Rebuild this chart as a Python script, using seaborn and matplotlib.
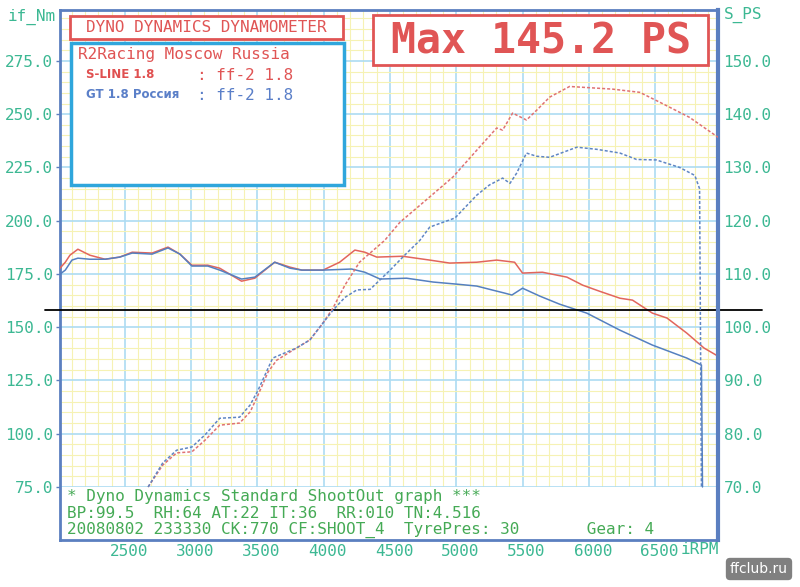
import matplotlib
matplotlib.use("Agg")
import matplotlib.pyplot as plt
import seaborn as sns
import pandas as pd
from matplotlib.patches import Rectangle
from matplotlib.ticker import MultipleLocator, FixedLocator
from matplotlib.transforms import ScaledTranslation

# ---------------- data ----------------
rpm_tq_red = [2010, 2050, 2085, 2145, 2235, 2350, 2460, 2555, 2705, 2765, 2825, 2915, 3005, 3125, 3215,
              3380, 3480, 3630, 3745, 3835, 3995, 4120, 4235, 4310, 4400, 4595, 4800, 4950, 5155, 5305,
              5440, 5500, 5650, 5835, 5955, 6080, 6235, 6330, 6480, 6590, 6740, 6870, 6975]
tq_red = [177.7, 180.5, 183.8, 186.6, 183.8, 181.9, 182.9, 185.2, 184.8, 186.2, 187.6, 184.3, 179.1, 179.1, 177.7,
          171.6, 173.0, 180.5, 178.2, 176.8, 176.8, 180.5, 186.2, 185.2, 182.9, 183.3, 181.5, 180.1, 180.5, 181.5,
          180.5, 175.4, 175.8, 173.5, 169.7, 166.9, 163.6, 162.7, 156.6, 154.3, 147.2, 140.2, 136.4]

rpm_tq_blue = [2010, 2050, 2100, 2145, 2235, 2350, 2460, 2555, 2705, 2825, 2915, 3005, 3125, 3215, 3380,
               3480, 3630, 3745, 3835, 3995, 4210, 4310, 4425, 4625, 4825, 5005, 5155, 5275, 5365, 5420,
               5500, 5630, 5780, 5985, 6235, 6480, 6740, 6850, 6858]
tq_blue = [174.9, 176.8, 181.5, 182.4, 181.9, 181.9, 182.9, 184.8, 184.3, 187.2, 184.3, 178.7, 178.7, 176.8, 172.6,
           173.5, 180.5, 177.7, 176.8, 176.8, 177.3, 175.8, 172.6, 173.0, 171.2, 170.2, 169.3, 167.4, 166.0, 165.1,
           168.3, 164.6, 160.8, 156.6, 148.6, 141.6, 135.5, 132.2, 75.0]

rpm_pw_red = [2675, 2785, 2890, 3005, 3105, 3215, 3365, 3445, 3505, 3580, 3645, 3795, 3895, 3995, 4070,
              4160, 4270, 4460, 4575, 4745, 4975, 5175, 5305, 5350, 5425, 5530, 5605, 5705, 5855, 5985,
              6180, 6385, 6555, 6760, 6985]
pw_red = [70.0, 74.1, 76.4, 76.6, 78.8, 81.6, 82.0, 84.1, 87.3, 91.6, 93.8, 96.1, 97.6, 100.8, 103.6,
          107.9, 112.2, 116.3, 119.7, 123.3, 128.2, 133.8, 137.4, 137.0, 140.2, 138.9, 140.7, 143.2, 145.2, 145.0,
          144.7, 144.1, 142.0, 139.4, 135.5]

rpm_pw_blue = [2675, 2785, 2890, 3005, 3105, 3215, 3365, 3445, 3505, 3615, 3795, 3895, 3995, 4070, 4160,
               4250, 4350, 4500, 4610, 4725, 4800, 4990, 5155, 5250, 5350, 5405, 5455, 5530, 5605, 5705,
               5910, 6060, 6235, 6360, 6510, 6685, 6800, 6836, 6850]
pw_blue = [70.0, 74.5, 76.9, 77.5, 79.8, 82.9, 83.1, 85.4, 88.2, 94.2, 96.1, 97.6, 100.8, 103.2, 105.6,
           107.0, 107.1, 110.7, 113.5, 116.3, 118.8, 120.5, 124.8, 126.7, 128.0, 127.0, 128.9, 132.7, 132.1, 131.9,
           133.8, 133.4, 132.7, 131.5, 131.4, 130.0, 128.5, 126.0, 70.0]

rpm_ticks = [2500, 3000, 3500, 4000, 4500, 5000, 5500, 6000, 6500]
nm_ticks = [75, 100, 125, 150, 175, 200, 225, 250, 275]
ps_ticks = [70, 80, 90, 100, 110, 120, 130, 140, 150]
cursor_nm = 158.0

df_tq_red = pd.DataFrame({"rpm": rpm_tq_red, "val": tq_red})
df_tq_blue = pd.DataFrame({"rpm": rpm_tq_blue, "val": tq_blue})
df_pw_red = pd.DataFrame({"rpm": rpm_pw_red, "val": pw_red})
df_pw_blue = pd.DataFrame({"rpm": rpm_pw_blue, "val": pw_blue})

# ---------------- style ----------------
sns.set_theme(style="white")
plt.rcParams['font.family'] = ['DejaVu Sans Mono', 'DejaVu Sans']

RED = "#e2655c"
RED_PW = "#e07272"
BLUE = "#5580c0"
BLUE_PW = "#5f86c4"
FRAME = "#5b7fc0"
TICKC = "#3cb893"
INFOC = "#45aa55"
W, H = 800, 587

def fx(x):
    return x / W

def fy(y):
    return 1 - y / H

fig = plt.figure(figsize=(8, 5.87), dpi=100)
fig.patch.set_facecolor("white")
ax = fig.add_axes([fx(60), fy(540), 658 / W, 530 / H])
ax.set_facecolor("white")
ax2 = ax.twinx()

nm_lo, nm_hi = 50.1, 298.9
ax.set_xlim(2010, 6975)
ax.set_ylim(nm_lo, nm_hi)
ax2.set_ylim(0.4 * nm_lo + 40, 0.4 * nm_hi + 40)

# grid
ax.set_axisbelow(True)
ax.xaxis.set_major_locator(FixedLocator(rpm_ticks))
ax.xaxis.set_minor_locator(MultipleLocator(100))
ax.yaxis.set_major_locator(FixedLocator(nm_ticks))
ax.yaxis.set_minor_locator(MultipleLocator(5))
ax.grid(which="minor", color="#f6f2b4", lw=0.8)
ax.grid(which="major", color="#addcf2", lw=1.2)
ax.axhspan(nm_lo, 75, color="white", zorder=1, lw=0)

# curves
sns.lineplot(data=df_tq_red, x="rpm", y="val", ax=ax, color=RED, lw=1.1, sort=False, estimator=None, legend=False, zorder=3)
sns.lineplot(data=df_tq_blue, x="rpm", y="val", ax=ax, color=BLUE, lw=1.1, sort=False, estimator=None, legend=False, zorder=3)
sns.lineplot(data=df_pw_red, x="rpm", y="val", ax=ax2, color=RED_PW, lw=1.1, sort=False, estimator=None, legend=False,
             linestyle=(0, (2, 1.3)), zorder=3)
sns.lineplot(data=df_pw_blue, x="rpm", y="val", ax=ax2, color=BLUE_PW, lw=1.1, sort=False, estimator=None, legend=False,
             linestyle=(0, (2, 1.3)), zorder=3)

# cursor line
ax.axhline(cursor_nm, xmin=(45 - 60) / 658, xmax=(762 - 60) / 658, color="black", lw=1.3, clip_on=False, zorder=4)

# axes labels / ticks
ax.set_xlabel("")
ax.set_ylabel("")
ax2.set_ylabel("")
ax.set_xticklabels([str(v) for v in rpm_ticks])
ax.set_yticklabels([f"{v:.1f}" for v in nm_ticks])
ax2.yaxis.set_major_locator(FixedLocator(ps_ticks))
ax2.set_yticklabels([f"{v:.1f}" for v in ps_ticks])
ax.tick_params(axis="both", which="minor", length=0)
ax.tick_params(axis="x", which="major", length=0, pad=3, labelsize=11.5, labelcolor=TICKC)
ax.tick_params(axis="y", which="major", length=3, width=1, color=FRAME, pad=2, labelsize=11.5, labelcolor=TICKC)
ax2.tick_params(axis="y", which="major", length=0, pad=4, labelsize=11.5, labelcolor=TICKC)
for lbl in ax.get_xticklabels():
    lbl.set_transform(lbl.get_transform() + ScaledTranslation(4 / 100, 0, fig.dpi_scale_trans))

for s in ax.spines.values():
    s.set_color(FRAME)
    s.set_linewidth(2)
for k, s in ax2.spines.items():
    if k == "right":
        s.set_color(FRAME)
        s.set_linewidth(3)
    else:
        s.set_visible(False)

# axis names
fig.text(fx(8), fy(17), "if_Nm", color=TICKC, fontsize=11.5, va="center", ha="left")
fig.text(fx(724), fy(15), "S_PS", color=TICKC, fontsize=11.5, va="center", ha="left")
fig.text(fx(681), fy(549), "iRPM", color=TICKC, fontsize=11.5, va="center", ha="left")

# boxes
def box(x0, y0, x1, y1, ec, lw):
    r = Rectangle((fx(x0), fy(y1)), (x1 - x0) / W, (y1 - y0) / H, transform=fig.transFigure,
                  fc="white", ec=ec, lw=lw, zorder=2)
    fig.patches.append(r)

box(71, 43, 344, 185, "#2fa6dc", 2.5)
box(70, 16, 343, 39, "#e05555", 2)
box(373, 15, 708, 65, "#e05555", 2)

fig.text(fx(206), fy(28), "DYNO DYNAMICS DYNAMOMETER", color="#e05555", fontsize=11.5, ha="center", va="center", zorder=5)
fig.text(fx(541), fy(41), "Max 145.2 PS", color="#e05555", fontsize=30, fontweight="bold", ha="center", va="center", zorder=5)
fig.text(fx(78), fy(55), "R2Racing Moscow Russia", color="#e05555", fontsize=11.5, ha="left", va="center", zorder=5)
fig.text(fx(86), fy(75), "S-LINE 1.8", color="#e05050", fontsize=8.5, fontweight="bold",
         family=["Liberation Sans Narrow", "DejaVu Sans"], ha="left", va="center", zorder=5)
fig.text(fx(197), fy(75), ": ff-2 1.8", color="#e05555", fontsize=11.5, ha="left", va="center", zorder=5)
fig.text(fx(86), fy(95), "GT 1.8 Россия", color="#5a7fc8", fontsize=8.5, fontweight="bold",
         family=["Liberation Sans Narrow", "DejaVu Sans"], ha="left", va="center", zorder=5)
fig.text(fx(197), fy(95), ": ff-2 1.8", color="#5a7fc8", fontsize=11.5, ha="left", va="center", zorder=5)

# info block
fig.text(fx(67), fy(497), "* Dyno Dynamics Standard ShootOut graph ***", color=INFOC, fontsize=11.5, ha="left", va="center")
fig.text(fx(67), fy(514), "BP:99.5  RH:64 AT:22 IT:36  RR:010 TN:4.516", color=INFOC, fontsize=11.5, ha="left", va="center")
fig.text(fx(67), fy(530), "20080802 233330 CK:770 CF:SHOOT_4  TyrePres: 30       Gear: 4", color=INFOC, fontsize=11.5,
         ha="left", va="center")

# watermark
fig.text(fx(759), fy(569), "ffclub.ru", color="white", fontsize=10, ha="center", va="center",
         family=["DejaVu Sans"],
         bbox=dict(boxstyle="round,pad=0.3,rounding_size=0.3", fc="#808080", ec="none"))

fig.savefig("out.png", dpi=100, facecolor="white")
